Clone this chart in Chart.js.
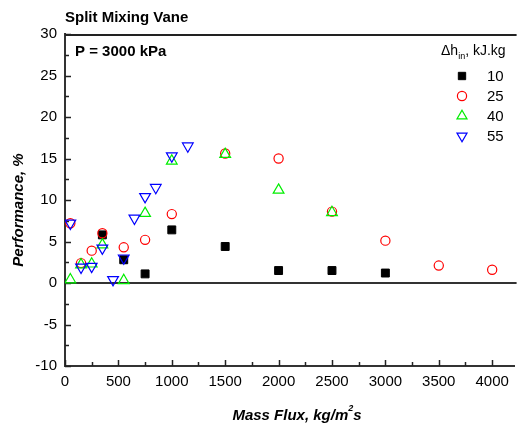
<!DOCTYPE html>
<html>
<head>
<meta charset="utf-8">
<script src="https://cdn.jsdelivr.net/npm/chart.js@4/dist/chart.umd.min.js"></script>
<style>
  html, body { margin: 0; padding: 0; background: #ffffff; }
  canvas { display: block; }
</style>
</head>
<body>
<canvas id="c" width="522" height="425"></canvas>
<script>
// ---- data ----
const seriesLabels = ['10', '25', '40', '55'];
const x10 = [350, 550, 750, 1000, 1500, 2000, 2500, 3000];
const y10 = [5.8, 2.8, 1.1, 6.4, 4.4, 1.5, 1.5, 1.2];
const x25 = [50, 150, 250, 350, 550, 750, 1000, 1500, 2000, 2500, 3000, 3500, 4000];
const y25 = [7.2, 2.4, 3.9, 6.0, 4.3, 5.2, 8.3, 15.6, 15.0, 8.6, 5.1, 2.1, 1.6];
const x40 = [50, 150, 250, 350, 550, 750, 1000, 1500, 2000, 2500];
const y40 = [0.4, 2.2, 2.3, 4.6, 0.3, 8.4, 14.7, 15.5, 11.2, 8.5];
const x55 = [50, 150, 250, 350, 450, 550, 650, 750, 850, 1000, 1150];
const y55 = [7.2, 1.9, 2.0, 4.2, 0.4, 3.0, 7.8, 10.4, 11.5, 15.3, 16.5];
const xTicks = [0, 500, 1000, 1500, 2000, 2500, 3000, 3500, 4000];
const yTicks = [-10, -5, 0, 5, 10, 15, 20, 25, 30];

const FONT = "'Liberation Sans', Arial, sans-serif";

function pts(xs, ys) { return xs.map((x, i) => ({ x: x, y: ys[i] })); }

const styles = [
  { pointStyle: 'rect', radius: 5.6, rotation: 0, borderColor: '#000000', backgroundColor: '#000000', borderWidth: 1 },
  { pointStyle: 'circle', radius: 4.6, rotation: 0, borderColor: '#ff0000', backgroundColor: 'rgba(0,0,0,0)', borderWidth: 1.2 },
  { pointStyle: 'triangle', radius: 6.2, rotation: 0, borderColor: '#00ee00', backgroundColor: 'rgba(0,0,0,0)', borderWidth: 1.2 },
  { pointStyle: 'triangle', radius: 6.2, rotation: 180, borderColor: '#0000ff', backgroundColor: 'rgba(0,0,0,0)', borderWidth: 1.2 }
];
const dataSets = [pts(x10, y10), pts(x25, y25), pts(x40, y40), pts(x55, y55)];

const datasets = dataSets.map((d, i) => ({
  label: seriesLabels[i],
  data: d,
  showLine: false,
  order: 3 - i,
  pointStyle: styles[i].pointStyle,
  pointRadius: styles[i].radius,
  pointHoverRadius: styles[i].radius,
  pointRotation: styles[i].rotation,
  pointBorderColor: styles[i].borderColor,
  pointBackgroundColor: styles[i].backgroundColor,
  pointBorderWidth: styles[i].borderWidth
}));

const decor = {
  id: 'decor',
  beforeDatasetsDraw(chart) {
    const ctx = chart.ctx;
    const a = chart.chartArea;
    const xs = chart.scales.x, ys = chart.scales.y;
    ctx.save();
    // top border
    ctx.strokeStyle = '#222222';
    ctx.lineWidth = 2;
    ctx.beginPath();
    ctx.moveTo(a.left, a.top + 1);
    ctx.lineTo(a.right + 2, a.top + 1);
    ctx.stroke();
    // zero line
    const y0 = ys.getPixelForValue(0);
    ctx.strokeStyle = '#333333';
    ctx.lineWidth = 2;
    ctx.beginPath();
    ctx.moveTo(a.left, y0);
    ctx.lineTo(a.right + 2, y0);
    ctx.stroke();
    // inward ticks
    ctx.strokeStyle = '#222222';
    ctx.lineWidth = 1.5;
    for (let v = 0; v <= xs.max; v += 250) {
      const px = Math.round(xs.getPixelForValue(v)) + 0.5;
      const len = (v % 500 === 0) ? 6 : 4;
      ctx.beginPath();
      ctx.moveTo(px, a.bottom);
      ctx.lineTo(px, a.bottom - len);
      ctx.stroke();
    }
    for (let v = -10; v <= 30; v += 2.5) {
      const py = Math.round(ys.getPixelForValue(v)) + 0.5;
      const len = (v % 5 === 0) ? 6 : 4;
      ctx.beginPath();
      ctx.moveTo(a.left, py);
      ctx.lineTo(a.left + len, py);
      ctx.stroke();
    }
    ctx.restore();
  },
  afterDraw(chart) {
    const ctx = chart.ctx;
    ctx.save();
    ctx.fillStyle = '#000000';
    ctx.textAlign = 'left';
    ctx.textBaseline = 'middle';
    // chart title and annotation
    ctx.font = "bold 15px " + FONT;
    ctx.fillText('Split Mixing Vane', 65, 18);
    ctx.fillText('P = 3000 kPa', 75, 52);

    // x axis title with superscript
    const part1 = 'Mass Flux, kg/m';
    const part2 = '2';
    const part3 = 's';
    ctx.font = "italic bold 15px " + FONT;
    const wa = ctx.measureText(part1).width;
    const wc = ctx.measureText(part3).width;
    ctx.font = "italic bold 9px " + FONT;
    const wb = ctx.measureText(part2).width;
    let sx = 297 - (wa + wb + wc) / 2;
    ctx.font = "italic bold 15px " + FONT;
    ctx.fillText(part1, sx, 416);
    ctx.font = "italic bold 9px " + FONT;
    ctx.fillText(part2, sx + wa, 409);
    ctx.font = "italic bold 15px " + FONT;
    ctx.fillText(part3, sx + wa + wb, 416);

    // y axis title
    ctx.save();
    ctx.translate(19, 210);
    ctx.rotate(-Math.PI / 2);
    ctx.textAlign = 'center';
    ctx.font = "italic bold 15px " + FONT;
    ctx.fillText('Performance, %', 0, 0);
    ctx.restore();

    // legend
    ctx.font = "14px " + FONT;
    let lx = 441;
    ctx.fillText('\u0394h', lx, 51);
    lx += ctx.measureText('\u0394h').width;
    ctx.font = "9px " + FONT;
    ctx.fillText('in', lx, 57);
    lx += ctx.measureText('in').width;
    ctx.font = "14px " + FONT;
    ctx.fillText(', kJ.kg', lx, 51);
    const rows = [76, 96, 116, 136];
    for (let i = 0; i < 4; i++) {
      const s = styles[i];
      ctx.save();
      ctx.strokeStyle = s.borderColor;
      ctx.fillStyle = s.backgroundColor;
      ctx.lineWidth = s.borderWidth;
      Chart.helpers.drawPoint(ctx, {
        pointStyle: s.pointStyle,
        rotation: s.rotation,
        radius: s.pointStyle === 'rect' ? 5.2 : (s.pointStyle === 'circle' ? 4.6 : 5.8),
        borderWidth: s.borderWidth
      }, 462, rows[i]);
      ctx.restore();
      ctx.fillStyle = '#000000';
      ctx.font = "15px " + FONT;
      ctx.fillText(seriesLabels[i], 487, rows[i] + 1);
    }
    ctx.restore();
  }
};

new Chart(document.getElementById('c'), {
  type: 'scatter',
  data: { datasets: datasets },
  options: {
    responsive: false,
    animation: false,
    devicePixelRatio: 1,
    layout: { padding: { top: 34, right: 1, left: 0, bottom: 0 } },
    plugins: {
      legend: { display: false },
      tooltip: { enabled: false },
      title: { display: false }
    },
    scales: {
      x: {
        type: 'linear',
        min: 0,
        max: 4210,
        afterBuildTicks: (s) => { s.ticks = xTicks.map(v => ({ value: v })); },
        afterFit: (s) => { s.height = 59; },
        grid: { display: false, drawTicks: false },
        border: { display: true, color: '#333333', width: 2 },
        ticks: { color: '#000000', font: { family: FONT, size: 15 }, padding: 7, maxRotation: 0,
                 callback: (v) => String(v) }
      },
      y: {
        type: 'linear',
        min: -10,
        max: 30,
        afterBuildTicks: (s) => { s.ticks = yTicks.map(v => ({ value: v })); },
        afterFit: (s) => { s.width = 65; },
        grid: { display: false, drawTicks: false },
        border: { display: true, color: '#333333', width: 2 },
        ticks: { color: '#000000', font: { family: FONT, size: 15 }, padding: 8,
                 callback: (v) => String(v) }
      }
    }
  },
  plugins: [decor]
});
</script>
</body>
</html>
